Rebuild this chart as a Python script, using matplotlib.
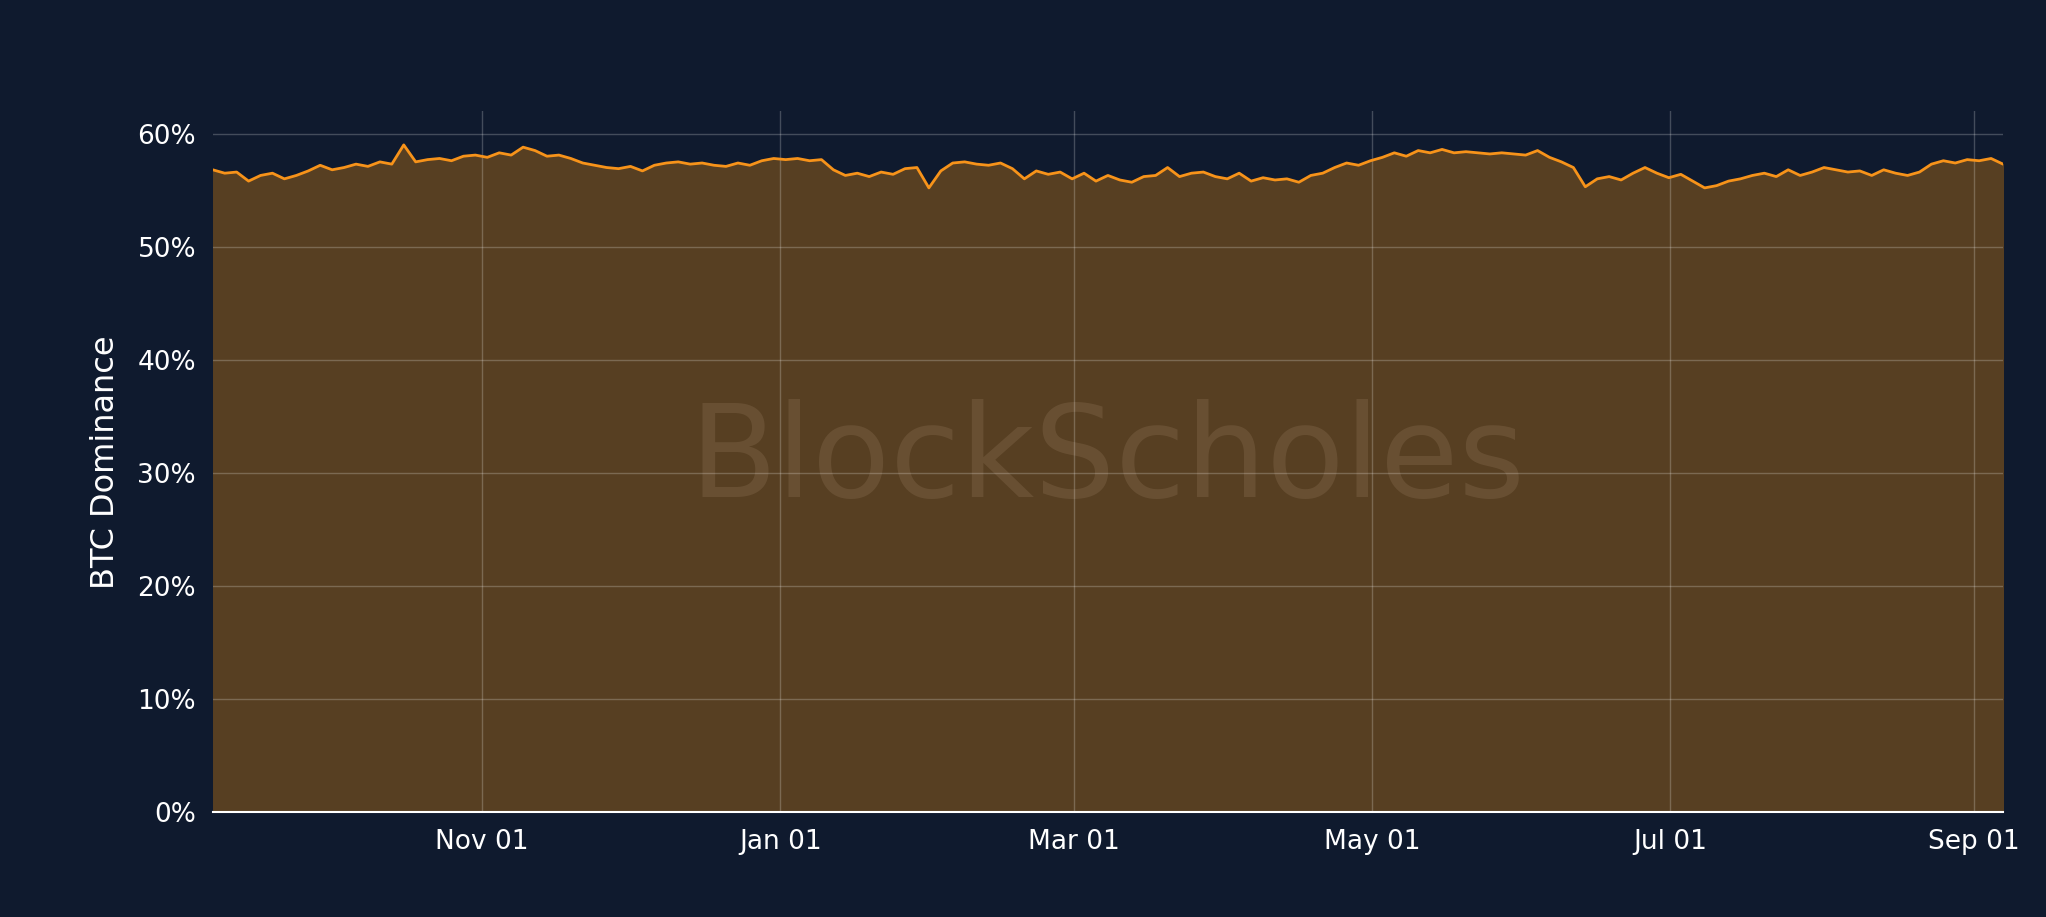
import matplotlib
matplotlib.use("Agg")
import matplotlib.pyplot as plt
import pandas as pd

start_date = "2023-09-07"
end_date = "2024-09-07"
btc_dominance = [56.8, 56.5, 56.6, 55.8, 56.3, 56.5, 56.0, 56.3, 56.7, 57.2, 56.8, 57.0, 57.3, 57.1, 57.5, 57.3,
    59.0, 57.5, 57.7, 57.8, 57.6, 58.0, 58.1, 57.9, 58.3, 58.1, 58.8, 58.5, 58.0, 58.1, 57.8, 57.4, 57.2, 57.0,
    56.9, 57.1, 56.7, 57.2, 57.4, 57.5, 57.3, 57.4, 57.2, 57.1, 57.4, 57.2, 57.6, 57.8, 57.7, 57.8, 57.6, 57.7,
    56.8, 56.3, 56.5, 56.2, 56.6, 56.4, 56.9, 57.0, 55.2, 56.7, 57.4, 57.5, 57.3, 57.2, 57.4, 56.9, 56.0, 56.7,
    56.4, 56.6, 56.0, 56.5, 55.8, 56.3, 55.9, 55.7, 56.2, 56.3, 57.0, 56.2, 56.5, 56.6, 56.2, 56.0, 56.5, 55.8,
    56.1, 55.9, 56.0, 55.7, 56.3, 56.5, 57.0, 57.4, 57.2, 57.6, 57.9, 58.3, 58.0, 58.5, 58.3, 58.6, 58.3, 58.4,
    58.3, 58.2, 58.3, 58.2, 58.1, 58.5, 57.9, 57.5, 57.0, 55.3, 56.0, 56.2, 55.9, 56.5, 57.0, 56.5, 56.1, 56.4,
    55.8, 55.2, 55.4, 55.8, 56.0, 56.3, 56.5, 56.2, 56.8, 56.3, 56.6, 57.0, 56.8, 56.6, 56.7, 56.3, 56.8, 56.5,
    56.3, 56.6, 57.3, 57.6, 57.4, 57.7, 57.6, 57.8, 57.3]
tick_dates = ["2023-11-01", "2024-01-01", "2024-03-01", "2024-05-01", "2024-07-01", "2024-09-01"]
tick_labels = ["Nov 01", "Jan 01", "Mar 01", "May 01", "Jul 01", "Sep 01"]
y_ticks = [0, 10, 20, 30, 40, 50, 60]

dates = pd.date_range(start_date, end_date, periods=len(btc_dominance))
bg = "#0f1a2e"
fig = plt.figure(figsize=(20.46, 9.17), dpi=100, facecolor=bg)
ax = fig.add_axes([0.104, 0.114, 0.875, 0.765])
ax.set_facecolor(bg)
ax.fill_between(dates, btc_dominance, 0, color="#573f22", zorder=1)
ax.plot(dates, btc_dominance, color="#f7931a", lw=2, zorder=3)
ax.set_xlim(pd.Timestamp(start_date), pd.Timestamp(end_date))
ax.set_ylim(0, 62)
ax.set_yticks(y_ticks)
ax.set_yticklabels([f"{v}%" for v in y_ticks])
ax.set_xticks(pd.to_datetime(tick_dates))
ax.set_xticklabels(tick_labels)
ax.grid(True, color="#ffffff", alpha=0.22, lw=1, zorder=2)
ax.set_axisbelow(False)
for s in ["top", "right", "left"]:
    ax.spines[s].set_visible(False)
ax.spines["bottom"].set_color("white")
ax.spines["bottom"].set_linewidth(1.5)
ax.tick_params(colors="white", labelsize=19, length=0, pad=12)
ax.set_ylabel("BTC Dominance", color="white", fontsize=23, labelpad=12)
ax.text(0.5, 0.5, "BlockScholes", transform=ax.transAxes, ha="center", va="center",
        fontsize=92, color="#6e5538", alpha=0.75, zorder=2)
fig.savefig("out.png", dpi=100, facecolor=bg)
